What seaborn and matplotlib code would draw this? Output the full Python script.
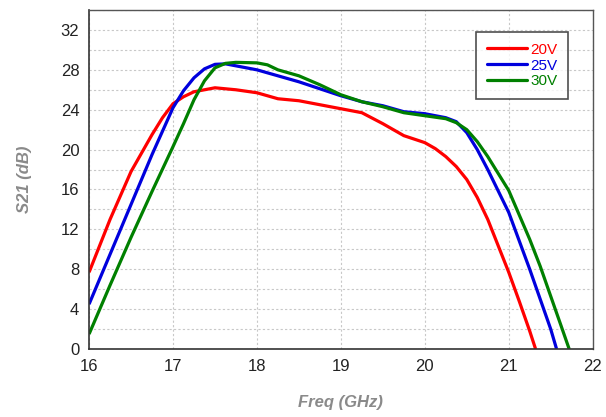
import numpy as np
import pandas as pd
import seaborn as sns
import matplotlib.pyplot as plt
from matplotlib.ticker import MultipleLocator

# S21 vs frequency for three bias voltages
freq_20v = [16.0, 16.25, 16.5, 16.75, 16.875, 17.0, 17.125, 17.25, 17.5, 17.75, 18.0,
            18.25, 18.5, 18.75, 19.0, 19.25, 19.5, 19.75, 20.0, 20.125, 20.25, 20.375,
            20.5, 20.625, 20.75, 21.0, 21.125, 21.25, 21.32]
s21_20v = [7.7, 13.0, 17.8, 21.5, 23.2, 24.6, 25.3, 25.8, 26.2, 26.0, 25.7,
           25.1, 24.9, 24.5, 24.1, 23.7, 22.6, 21.4, 20.7, 20.1, 19.3, 18.3,
           17.0, 15.2, 13.0, 7.7, 4.8, 1.8, 0.0]

freq_25v = [16.0, 16.25, 16.5, 16.75, 17.0, 17.125, 17.25, 17.375, 17.5, 17.625, 17.75,
            18.0, 18.25, 18.5, 18.75, 19.0, 19.25, 19.5, 19.75, 20.0, 20.25, 20.375,
            20.5, 20.625, 20.75, 21.0, 21.25, 21.375, 21.5, 21.57]
s21_25v = [4.5, 9.5, 14.5, 19.5, 24.2, 25.9, 27.2, 28.1, 28.55, 28.6, 28.4,
           28.0, 27.4, 26.8, 26.1, 25.4, 24.8, 24.4, 23.8, 23.6, 23.2, 22.8,
           21.7, 20.0, 18.0, 13.7, 8.0, 5.0, 2.0, 0.0]

freq_30v = [16.0, 16.25, 16.5, 16.75, 17.0, 17.125, 17.25, 17.375, 17.5, 17.625, 17.75,
            18.0, 18.125, 18.25, 18.5, 18.75, 19.0, 19.25, 19.5, 19.75, 20.0, 20.25,
            20.375, 20.5, 20.625, 20.75, 21.0, 21.25, 21.375, 21.5, 21.625, 21.72]
s21_30v = [1.5, 6.4, 11.2, 15.8, 20.3, 22.6, 25.0, 26.9, 28.2, 28.65, 28.75,
           28.7, 28.5, 28.0, 27.4, 26.5, 25.5, 24.8, 24.3, 23.7, 23.4, 23.1,
           22.7, 22.0, 20.8, 19.3, 15.9, 11.0, 8.3, 5.3, 2.3, 0.0]

labels = ['20V', '25V', '30V']
colors = ['#ff0000', '#0000dd', '#008000']

df = pd.concat([
    pd.DataFrame({'freq': f, 's21': s, 'bias': lab})
    for f, s, lab in zip([freq_20v, freq_25v, freq_30v], [s21_20v, s21_25v, s21_30v], labels)
])

sns.set_style('white')
plt.rcParams['font.family'] = ['Liberation Sans', 'DejaVu Sans']

fig = plt.figure(figsize=(6.06, 4.17), dpi=100)
ax = fig.add_axes([0.147, 0.163, 0.831, 0.813])

sns.lineplot(data=df, x='freq', y='s21', hue='bias', palette=dict(zip(labels, colors)),
             linewidth=2.3, ax=ax, legend=False, sort=False, estimator=None,
             solid_joinstyle='round', solid_capstyle='butt')

ax.set_xlim(16, 22)
ax.set_ylim(0, 34)
ax.xaxis.set_major_locator(MultipleLocator(1))
ax.yaxis.set_major_locator(MultipleLocator(4))
ax.yaxis.set_minor_locator(MultipleLocator(2))
ax.grid(True, which='both', color='#c8c8c8', linestyle=(0, (2, 2)), linewidth=0.8)
ax.set_axisbelow(True)
ax.tick_params(which='both', length=0)
ax.tick_params(axis='both', labelsize=12, colors='#222222', pad=7)

for side in ['left', 'bottom']:
    ax.spines[side].set_color('#333333')
    ax.spines[side].set_linewidth(1.2)
for side in ['top', 'right']:
    ax.spines[side].set_color('#555555')
    ax.spines[side].set_linewidth(1.0)

ax.set_xlabel('Freq (GHz)', fontsize=12, fontweight='bold', fontstyle='italic',
              color='#8a8a8a', labelpad=15)
ax.set_ylabel('S21 (dB)', fontsize=12, fontweight='bold', fontstyle='italic',
              color='#8a8a8a', labelpad=21)

handles = [plt.Line2D([], [], color=c, linewidth=2.3) for c in colors]
leg = ax.legend(handles, labels, loc='upper right', bbox_to_anchor=(0.952, 0.935),
                fontsize=11, frameon=True, fancybox=False, edgecolor='#222222',
                handlelength=2.6, handletextpad=0.25, labelspacing=0.12,
                borderpad=0.7, borderaxespad=0)
leg.get_frame().set_linewidth(1.2)
for txt, c in zip(leg.get_texts(), colors):
    txt.set_color(c)

fig.savefig('out.png', dpi=100, facecolor='white')
